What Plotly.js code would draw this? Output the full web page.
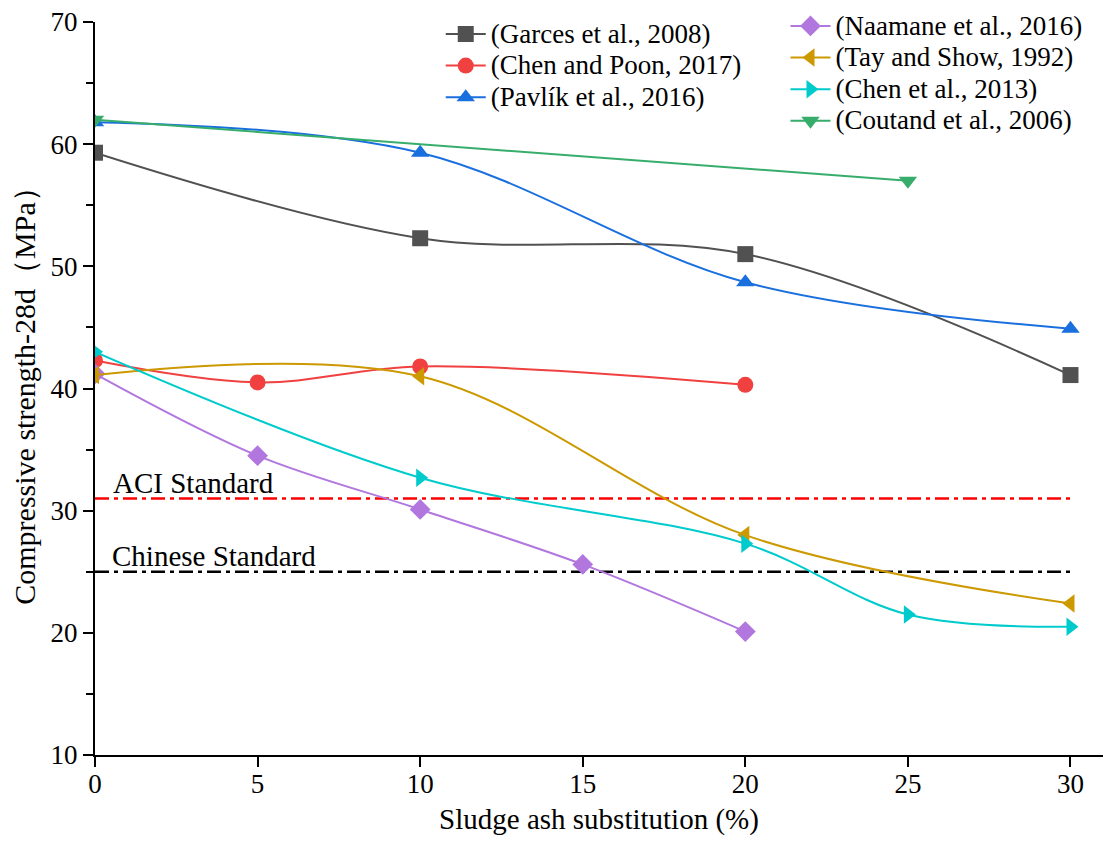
<!DOCTYPE html>
<html>
<head>
<meta charset="utf-8">
<script src="https://cdn.plot.ly/plotly-3.0.1.min.js"></script>
<style>html,body{margin:0;padding:0;background:#fff;}#chart{width:1119px;height:852px;}</style>
</head>
<body>
<div id="chart"></div>
<script>
// ---- data ----
const garcesX = [0, 10, 20, 30];
const garcesY = [59.3, 52.3, 51.0, 41.1];
const chenPoonX = [0, 5, 10, 20];
const chenPoonY = [42.3, 40.5, 41.8, 40.3];
const pavlikX = [0, 10, 20, 30];
const pavlikY = [61.8, 59.3, 48.7, 44.9];
const naamaneX = [0, 5, 10, 15, 20];
const naamaneY = [41.2, 34.5, 30.1, 25.6, 20.1];
const tayX = [0, 10, 20, 30];
const tayY = [41.1, 41.0, 28.0, 22.4];
const chen2013X = [0, 10, 20, 25, 30];
const chen2013Y = [43.0, 32.7, 27.3, 21.5, 20.5];
const coutandX = [0, 25];
const coutandY = [62.0, 57.0];
const standardX = [0, 30];
const aciY = [31.0, 31.0];
const chineseY = [25.0, 25.0];
const xTicks = [0, 5, 10, 15, 20, 25, 30];
const yTicks = [10, 20, 30, 40, 50, 60, 70];

const names = ["(Garces et al., 2008)", "(Chen and Poon, 2017)", "(Pavlík et al., 2016)",
  "(Naamane et al., 2016)", "(Tay and Show, 1992)", "(Chen et al., 2013)", "(Coutand et al., 2006)"];
const colors = ["#515151", "#F14040", "#1A6FDF", "#B177DE", "#CC9900", "#00CBCC", "#37AD6B"];
const symbols = ["square", "circle", "triangle-up", "diamond", "triangle-left", "triangle-right", "triangle-down"];

const seriesX = [garcesX, chenPoonX, pavlikX, naamaneX, tayX, chen2013X, coutandX];
const seriesY = [garcesY, chenPoonY, pavlikY, naamaneY, tayY, chen2013Y, coutandY];

const traces = [];
traces.push({x: standardX, y: aciY, mode: 'lines', showlegend: false, hoverinfo: 'skip',
  line: {color: '#FF0000', width: 2.5, dash: '14px,5px,4px,5px'}});
traces.push({x: standardX, y: chineseY, mode: 'lines', showlegend: false, hoverinfo: 'skip',
  line: {color: '#000000', width: 2.5, dash: '14px,5px,4px,5px'}});
for (let i = 0; i < 7; i++) {
  traces.push({
    x: seriesX[i], y: seriesY[i],
    name: '<span style="font-size:27px">' + names[i] + '</span>',
    mode: 'lines+markers',
    legend: i < 3 ? 'legend' : 'legend2',
    line: {color: colors[i], width: 2, shape: 'spline', smoothing: 1},
    marker: {color: colors[i], symbol: symbols[i], size: 16, line: {width: 0}}
  });
}

const font = {family: '"Liberation Serif", "Times New Roman", serif', color: '#000'};
const layout = {
  width: 1119, height: 852,
  margin: {l: 95, r: 16, t: 22, b: 97, autoexpand: false},
  paper_bgcolor: '#fff', plot_bgcolor: '#fff',
  font: Object.assign({size: 22}, font),
  xaxis: {
    range: [0, 31], tickvals: xTicks, ticktext: xTicks.map(String),
    ticks: 'outside', ticklen: 10, tickwidth: 2, tickcolor: '#000',
    showline: true, linewidth: 2, linecolor: '#000', showgrid: false, zeroline: false,
    tickfont: Object.assign({size: 27}, font), ticklabelstandoff: -6,
    title: {text: 'Sludge ash substitution (%)', font: Object.assign({size: 29}, font), standoff: 10}
  },
  yaxis: {
    range: [10, 70], tickvals: yTicks, ticktext: yTicks.map(String),
    ticks: 'outside', ticklen: 10, tickwidth: 2, tickcolor: '#000',
    minor: {dtick: 5, tick0: 15, ticks: 'outside', ticklen: 7, tickwidth: 2, tickcolor: '#000', showgrid: false},
    showline: true, linewidth: 2, linecolor: '#000', showgrid: false, zeroline: false,
    tickfont: Object.assign({size: 27}, font),
    title: {text: 'Compressive strength-28d（MPa）', font: Object.assign({size: 30}, font), standoff: 6}
  },
  legend: {x: 0.343, y: 1.012, xanchor: 'left', yanchor: 'top', bgcolor: 'rgba(0,0,0,0)',
    font: Object.assign({size: 22}, font), tracegroupgap: 0, itemwidth: 40},
  legend2: {x: 0.685, y: 1.023, xanchor: 'left', yanchor: 'top', bgcolor: 'rgba(0,0,0,0)',
    font: Object.assign({size: 22}, font), tracegroupgap: 0, itemwidth: 40},
  annotations: [
    {x: 0.5, y: 32.3, xref: 'x', yref: 'y', text: 'ACI Standard', showarrow: false,
      xanchor: 'left', yanchor: 'middle', font: Object.assign({size: 29}, font)},
    {x: 0.45, y: 26.3, xref: 'x', yref: 'y', text: 'Chinese Standard', showarrow: false,
      xanchor: 'left', yanchor: 'middle', font: Object.assign({size: 29}, font)}
  ],
  showlegend: true
};
Plotly.newPlot('chart', traces, layout, {displayModeBar: false, staticPlot: true});
</script>
</body>
</html>
